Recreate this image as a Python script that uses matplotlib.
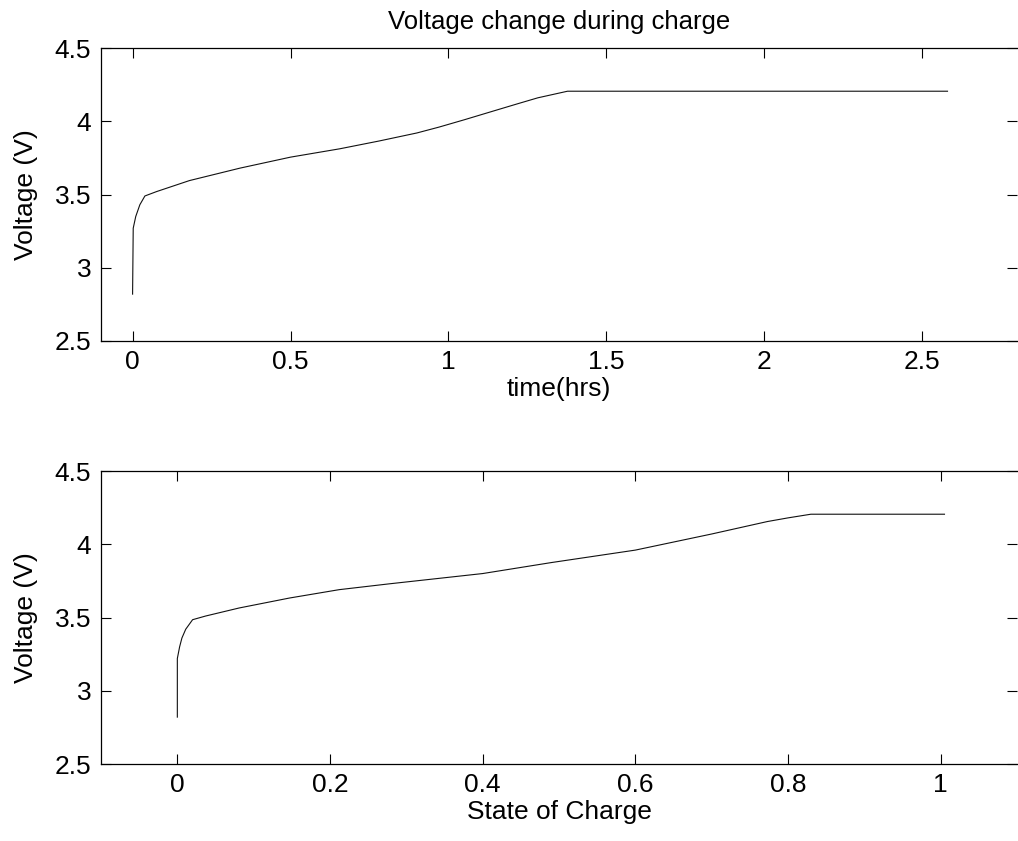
import numpy as np
import matplotlib.pyplot as plt

plt.rcParams['font.family'] = ['Liberation Sans', 'DejaVu Sans']

# charge curve vs time
t_hrs = [0.0, 0.002, 0.010, 0.023, 0.039, 0.076, 0.18, 0.34, 0.50, 0.656,
         0.78, 0.90, 0.97, 1.05, 1.158, 1.22, 1.283, 1.377, 2.58]
v_time = [2.82, 3.27, 3.35, 3.43, 3.49, 3.52, 3.595, 3.68, 3.755, 3.812,
          3.865, 3.92, 3.96, 4.01, 4.08, 4.12, 4.16, 4.205, 4.205]

# same curve vs state of charge
soc = [0.0, 0.0, 0.003, 0.006, 0.011, 0.020, 0.037, 0.081, 0.147, 0.212,
       0.278, 0.40, 0.49, 0.60, 0.70, 0.773, 0.80, 0.83, 1.005]
v_soc = [2.82, 3.22, 3.30, 3.36, 3.42, 3.485, 3.51, 3.565, 3.633, 3.69,
         3.73, 3.80, 3.875, 3.96, 4.07, 4.155, 4.18, 4.205, 4.205]

W, H = 1018, 841
fig = plt.figure(figsize=(W / 100, H / 100), dpi=100)
ax1 = fig.add_axes([101 / W, (H - 341) / H, 916 / W, 293 / H])
ax2 = fig.add_axes([101 / W, (H - 764) / H, 916 / W, 293 / H])

fs = 19
for ax in (ax1, ax2):
    ax.set_ylim(2.5, 4.5)
    ax.set_yticks([2.5, 3, 3.5, 4, 4.5])
    ax.set_yticklabels(['2.5', '3', '3.5', '4', '4.5'])
    ax.tick_params(direction='in', top=True, right=True, length=7, width=0.8,
                   labelsize=fs, colors='black')
    ax.tick_params(axis='x', pad=6.5)
    ax.tick_params(axis='y', pad=7)
    ax.spines['right'].set_visible(False)
    for s in ('left', 'top', 'bottom'):
        ax.spines[s].set_linewidth(0.9)
    ax.set_ylabel('Voltage (V)', fontsize=fs, labelpad=12)

ax1.plot(t_hrs, v_time, color='#111111', linewidth=0.8)
ax1.set_xlim(-0.1, 2.8)
ax1.set_xticks([0, 0.5, 1, 1.5, 2, 2.5])
ax1.set_xticklabels(['0', '0.5', '1', '1.5', '2', '2.5'])
ax1.set_xlabel('time(hrs)', fontsize=fs, labelpad=2)
ax1.set_title('Voltage change during charge', fontsize=18.5, pad=14)

ax2.plot(soc, v_soc, color='#111111', linewidth=0.8)
ax2.set_xlim(-0.1, 1.1)
ax2.set_xticks([0, 0.2, 0.4, 0.6, 0.8, 1])
ax2.set_xticklabels(['0', '0.2', '0.4', '0.6', '0.8', '1'])
ax2.set_xlabel('State of Charge', fontsize=fs, labelpad=2)

fig.savefig('out.png', dpi=100)
